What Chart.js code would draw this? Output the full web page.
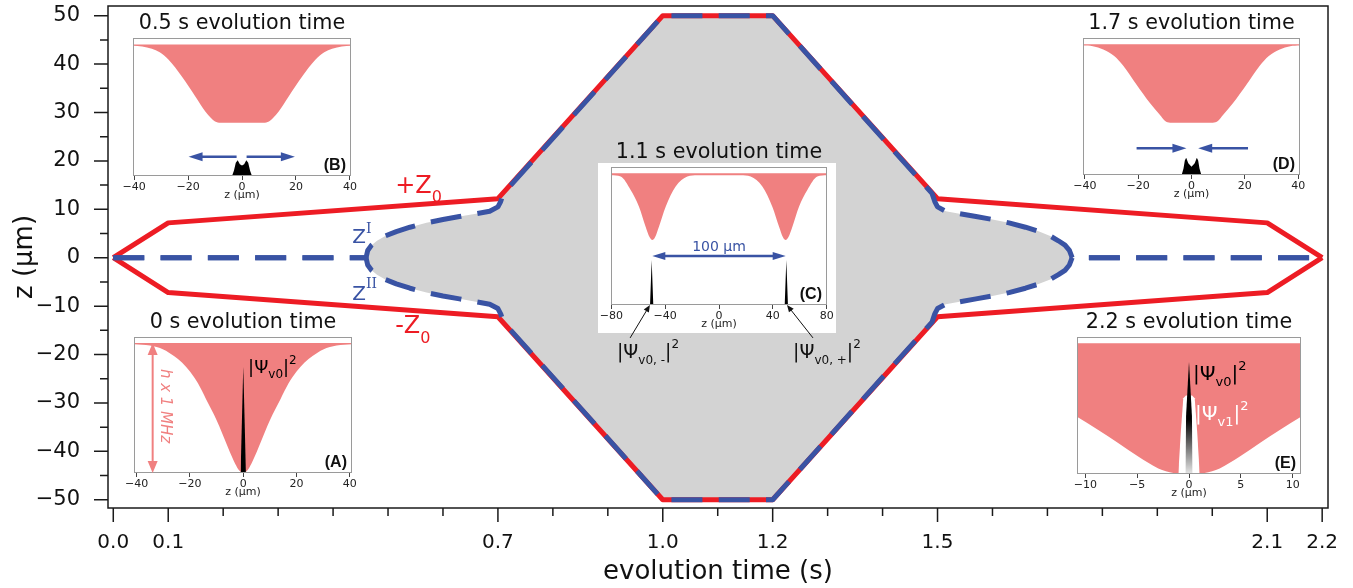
<!DOCTYPE html>
<html>
<head>
<meta charset="utf-8">
<script src="https://cdn.jsdelivr.net/npm/chart.js@4.4.1/dist/chart.umd.min.js"></script>
<style>
    html, body { margin: 0; padding: 0; background: #fff; }
    #contenedor { position: relative; width: 1353px; height: 588px; overflow: hidden; }
    #contenedor canvas { position: absolute; }
    #panelC { position: absolute; left: 598px; top: 163px; width: 238px; height: 170px; background: #fff; }
</style>
</head>
<body>
<div id="contenedor">
    <canvas id="principal" width="1353" height="588" style="left:0;top:0"></canvas>
    <div id="panelC"></div>
    <canvas id="recuadroA"></canvas>
    <canvas id="recuadroB"></canvas>
    <canvas id="recuadroC"></canvas>
    <canvas id="recuadroD"></canvas>
    <canvas id="recuadroE"></canvas>
</div>
<script>
// ---- Datos de la gráfica principal (tiempo en s, posición en µm) ----
const tZ0 = [0, 0.1, 0.7, 1.0, 1.2, 1.5, 2.1, 2.2];
const zMas0 = [0, 7.2, 12.2, 50, 50, 12.2, 7.2, 0];
const zMenos0 = [0, -7.2, -12.2, -50, -50, -12.2, -7.2, 0];

const tZ = [0, 0.460, 0.463, 0.470, 0.480, 0.495, 0.515, 0.540, 0.570, 0.600, 0.630, 0.660, 0.685, 0.700, 0.705, 0.710,
            1.0, 1.2,
            1.490, 1.495, 1.500, 1.515, 1.540, 1.570, 1.600, 1.630, 1.660, 1.685, 1.705, 1.720, 1.732, 1.740, 1.745, 2.2];
const zI = [0, 0, 1.5, 2.6, 3.5, 4.5, 5.4, 6.3, 7.2, 7.9, 8.5, 9.1, 9.6, 10.5, 11.6, 13.3,
            50, 50,
            13.3, 11.6, 10.5, 9.6, 9.1, 8.5, 7.9, 7.2, 6.3, 5.4, 4.5, 3.5, 2.6, 1.5, 0, 0];
const zII = [0, 0, -1.5, -2.6, -3.5, -4.5, -5.4, -6.3, -7.2, -7.9, -8.5, -9.1, -9.6, -10.5, -11.6, -13.3,
             -50, -50,
             -13.3, -11.6, -10.5, -9.6, -9.1, -8.5, -7.9, -7.2, -6.3, -5.4, -4.5, -3.5, -2.6, -1.5, 0, 0];

// Marcas de los ejes
const xMarcas = [0, 0.1, 0.7, 1.0, 1.2, 1.5, 2.1, 2.2];
const xEtiquetas = ['0.0', '0.1', '0.7', '1.0', '1.2', '1.5', '2.1', '2.2'];
const xMarcasMenores = [0.2, 0.3, 0.4, 0.5, 0.6, 0.8, 0.9, 1.1, 1.3, 1.4, 1.6, 1.7, 1.8, 1.9, 2.0];
const yMarcas = [-50, -40, -30, -20, -10, 0, 10, 20, 30, 40, 50];
const yEtiquetas = ['\u221250', '\u221240', '\u221230', '\u221220', '\u221210', '0', '10', '20', '30', '40', '50'];
const yMarcasMenores = [-45, -35, -25, -15, -5, 5, 15, 25, 35, 45];

// ---- Datos de los recuadros (z en µm, energía normalizada) ----
// (A) 0 s
const zPozoA = [-41, -35, -30, -26, -23, -20, -17, -14, -11, -9, -7, -5, -3, -1.5, 0, 1.5, 3, 5, 7, 9, 11, 14, 17, 20, 23, 26, 30, 35, 41];
const vPozoA = [0.99, 0.98, 0.95, 0.90, 0.85, 0.78, 0.69, 0.57, 0.45, 0.36, 0.26, 0.16, 0.07, 0.02, 0, 0.02, 0.07, 0.16, 0.26, 0.36, 0.45, 0.57, 0.69, 0.78, 0.85, 0.90, 0.95, 0.98, 0.99];
const zPsiA = [-1.0, 0, 1.0];
const psiA = [0, 0.82, 0];
// (B) 0.5 s
const zPozoB = [-40.4, -37, -33.4, -30.5, -27.2, -22.3, -17.3, -13.6, -11.5, -10, -8, 0, 8, 10, 11.5, 13.6, 17.3, 22.3, 27.2, 30.5, 33.4, 37, 40.4];
const vPozoB = [0.99, 0.985, 0.968, 0.94, 0.883, 0.756, 0.605, 0.49, 0.44, 0.415, 0.405, 0.405, 0.405, 0.415, 0.44, 0.49, 0.605, 0.756, 0.883, 0.94, 0.968, 0.985, 0.99];
const zPsiB = [-3.7, -3.0, -2.3, -1.6, -0.8, 0, 0.8, 1.6, 2.3, 3.0, 3.7];
const psiB = [0, 0.04, 0.10, 0.119, 0.09, 0.08, 0.09, 0.119, 0.10, 0.04, 0];
// (C) 1.1 s
const zPozoC = [-80.2, -73, -65.6, -59.4, -54.5, -51.5, -49.5, -47.5, -44.6, -39.6, -32.2, -23.5, -16, 0, 16, 23.5, 32.2, 39.6, 44.6, 47.5, 49.5, 51.5, 54.5, 59.4, 65.6, 73, 80.2];
const vPozoC = [0.985, 0.975, 0.873, 0.746, 0.595, 0.515, 0.494, 0.515, 0.595, 0.746, 0.899, 0.975, 0.985, 0.985, 0.985, 0.975, 0.899, 0.746, 0.595, 0.515, 0.494, 0.515, 0.595, 0.746, 0.873, 0.975, 0.985];
const zPsiC = [-51.2, -50, -48.8, 48.8, 50, 51.2];
const psiC = [0, 0.342, 0, 0, 0.342, 0];
// (D) 1.7 s
const zPozoD = [-40.7, -37, -33.1, -29, -25.6, -20.6, -15.6, -11.9, -10, -8, 0, 8, 10, 11.9, 15.6, 20.6, 25.6, 29, 33.1, 37, 40.7];
const vPozoD = [0.99, 0.985, 0.96, 0.91, 0.835, 0.69, 0.55, 0.46, 0.415, 0.40, 0.40, 0.40, 0.415, 0.46, 0.55, 0.69, 0.835, 0.91, 0.96, 0.985, 0.99];
const zPsiD = [-3.7, -3.0, -2.5, -2.0, -1.2, 0, 1.2, 2.0, 2.5, 3.0, 3.7];
const psiD = [0, 0.05, 0.11, 0.132, 0.09, 0.064, 0.09, 0.132, 0.11, 0.05, 0];
// (E) 2.2 s
const zPozoE = [-10.8, -8.75, -6.8, -4.9, -2.96, -1.5, 0, 1.5, 2.96, 4.9, 6.8, 8.75, 10.8];
const vPozoE = [0.438, 0.337, 0.235, 0.133, 0.043, 0.008, 0, 0.008, 0.043, 0.133, 0.235, 0.337, 0.438];
const zPsi1E = [-1.03, -0.8, -0.55, -0.3, 0.3, 0.55, 0.8, 1.03];
const psi1E = [0, 0.31, 0.58, 0.6, 0.6, 0.58, 0.31, 0];
const zPsi0E = [-0.35, -0.28, 0, 0.28, 0.35];
const psi0E = [0, 0.45, 0.86, 0.45, 0];

const marcas40 = [-40, -20, 0, 20, 40];
const etiquetas40 = ['\u221240', '\u221220', '0', '20', '40'];
const marcas80 = [-80, -40, 0, 40, 80];
const etiquetas80 = ['\u221280', '\u221240', '0', '40', '80'];
const marcas10 = [-10, -5, 0, 5, 10];
const etiquetas10 = ['\u221210', '\u22125', '0', '5', '10'];

// ---- Estilos ----
const ROJO = '#ed1c24';
const AZUL = '#3953a4';
const GRIS = '#d3d3d3';
const ROSA = '#f08080';
const FUENTE = "'DejaVu Sans'";

Chart.defaults.font.family = FUENTE;
Chart.defaults.color = '#111';

const puntos = (xs, ys) => xs.map((x, i) => ({ x: x, y: ys[i] }));

// Corrige el relleno del layout para que el área de trazado caiga donde debe
function ajustarArea(chart, relleno, deseado) {
    for (let k = 0; k < 4; k++) {
        const a = chart.chartArea;
        const dT = a.top - deseado.top, dL = a.left - deseado.left;
        const dR = deseado.right - a.right, dB = deseado.bottom - a.bottom;
        if (Math.abs(dT) + Math.abs(dL) + Math.abs(dR) + Math.abs(dB) < 0.3) break;
        relleno.top -= dT; relleno.left -= dL; relleno.right -= dR; relleno.bottom -= dB;
        chart.update();
    }
}

// Texto con subíndices / superíndices
function textoCompuesto(ctx, x, y, partes, color) {
    ctx.fillStyle = color;
    ctx.textAlign = 'left';
    ctx.textBaseline = 'alphabetic';
    let px = x;
    partes.forEach(p => {
        ctx.font = p.f;
        ctx.fillText(p.t, px, y + (p.dy || 0));
        px += ctx.measureText(p.t).width;
    });
}

function flecha(ctx, x1, y1, x2, y2, largo, ancho) {
    const ang = Math.atan2(y2 - y1, x2 - x1);
    const bx = x2 - largo * Math.cos(ang), by = y2 - largo * Math.sin(ang);
    ctx.beginPath(); ctx.moveTo(x1, y1); ctx.lineTo(bx + Math.cos(ang), by + Math.sin(ang)); ctx.stroke();
    ctx.beginPath();
    ctx.moveTo(x2, y2);
    ctx.lineTo(bx + ancho * Math.sin(ang), by - ancho * Math.cos(ang));
    ctx.lineTo(bx - ancho * Math.sin(ang), by + ancho * Math.cos(ang));
    ctx.closePath(); ctx.fill();
}

function dobleFlecha(ctx, x1, y1, x2, y2, largo, ancho) {
    const mx = (x1 + x2) / 2, my = (y1 + y2) / 2;
    flecha(ctx, mx, my, x1, y1, largo, ancho);
    flecha(ctx, mx, my, x2, y2, largo, ancho);
}

function letraRecuadro(ctx, a, texto) {
    ctx.fillStyle = '#111';
    ctx.font = "bold 16px 'Liberation Sans'";
    ctx.textAlign = 'right';
    ctx.textBaseline = 'alphabetic';
    ctx.fillText(texto, a.right - 5, a.bottom - 6);
}

const psiPartes = (sub, g, p) => [
    { t: '|\u03A8', f: g + 'px ' + FUENTE },
    { t: sub, f: p + 'px ' + FUENTE, dy: Math.round(g * 0.3) },
    { t: '|', f: g + 'px ' + FUENTE },
    { t: '2', f: p + 'px ' + FUENTE, dy: -Math.round(g * 0.5) }
];

// ---- Gráfica principal: marco, marcas y etiquetas ----
const marcoPrincipal = {
    id: 'marcoPrincipal',
    afterDraw(chart) {
        const { ctx, chartArea: a } = chart;
        const x = chart.scales.x, y = chart.scales.y;
        ctx.save();
        ctx.strokeStyle = '#1a1a1a';
        ctx.lineWidth = 1.5;
        ctx.strokeRect(a.left, a.top, a.right - a.left, a.bottom - a.top);
        ctx.beginPath();
        xMarcas.forEach(v => { const p = x.getPixelForValue(v); ctx.moveTo(p, a.bottom); ctx.lineTo(p, a.bottom + 14); });
        xMarcasMenores.forEach(v => { const p = x.getPixelForValue(v); ctx.moveTo(p, a.bottom); ctx.lineTo(p, a.bottom + 8); });
        yMarcas.forEach(v => { const p = y.getPixelForValue(v); ctx.moveTo(a.left, p); ctx.lineTo(a.left - 14, p); });
        yMarcasMenores.forEach(v => { const p = y.getPixelForValue(v); ctx.moveTo(a.left, p); ctx.lineTo(a.left - 8, p); });
        ctx.stroke();

        // Etiquetas de las trayectorias
        textoCompuesto(ctx, x.getPixelForValue(0.513), y.getPixelForValue(13.4),
            [{ t: '+Z', f: '24px ' + FUENTE }, { t: '0', f: '16px ' + FUENTE, dy: 9 }], ROJO);
        textoCompuesto(ctx, x.getPixelForValue(0.513), y.getPixelForValue(-15.5),
            [{ t: '-Z', f: '24px ' + FUENTE }, { t: '0', f: '16px ' + FUENTE, dy: 10 }], ROJO);
        textoCompuesto(ctx, x.getPixelForValue(0.435), y.getPixelForValue(3.1),
            [{ t: 'Z', f: '20px ' + FUENTE }, { t: 'I', f: "14px 'DejaVu Serif'", dy: -10 }], AZUL);
        textoCompuesto(ctx, x.getPixelForValue(0.435), y.getPixelForValue(-8.7),
            [{ t: 'Z', f: '20px ' + FUENTE }, { t: 'II', f: "14px 'DejaVu Serif'", dy: -12 }], AZUL);
        ctx.restore();
    }
};

const rellenoPrincipal = { top: 6, right: 25, left: 0, bottom: 0 };
const graficaPrincipal = new Chart(document.getElementById('principal'), {
    type: 'line',
    data: {
        datasets: [
            { data: puntos(tZ, zI), fill: '+1', backgroundColor: GRIS, borderWidth: 0, pointRadius: 0, order: 3 },
            { data: puntos(tZ, zII), fill: false, borderWidth: 0, pointRadius: 0, order: 3 },
            { data: puntos(tZ0, zMas0), fill: false, borderColor: ROJO, borderWidth: 5, pointRadius: 0, borderJoinStyle: 'round', order: 2 },
            { data: puntos(tZ0, zMenos0), fill: false, borderColor: ROJO, borderWidth: 5, pointRadius: 0, borderJoinStyle: 'round', order: 2 },
            { data: puntos(tZ, zI), fill: false, borderColor: AZUL, borderWidth: 5, borderDash: [31, 16.3], pointRadius: 0, borderJoinStyle: 'round', order: 1 },
            { data: puntos(tZ, zII), fill: false, borderColor: AZUL, borderWidth: 5, borderDash: [31, 16.3], pointRadius: 0, borderJoinStyle: 'round', order: 1 }
        ]
    },
    options: {
        responsive: false,
        animation: false,
        events: [],
        layout: { padding: rellenoPrincipal, autoPadding: false },
        plugins: { legend: { display: false }, tooltip: { enabled: false } },
        scales: {
            x: {
                type: 'linear', min: -0.0096, max: 2.2106,
                afterFit: s => { s.height = 80; s.paddingLeft = 0; s.paddingRight = 0; },
                afterBuildTicks: s => { s.ticks = xMarcas.map(v => ({ value: v })); },
                grid: { display: false }, border: { display: false },
                ticks: { autoSkip: false, maxRotation: 0, padding: 15, font: { size: 20 }, color: '#111',
                         callback: (v, i) => xEtiquetas[i] },
                title: { display: true, text: 'evolution time (s)', font: { size: 26 }, color: '#111', padding: { top: 0, bottom: 0 } }
            },
            y: {
                min: -51.7, max: 52,
                afterFit: s => { s.width = 108; s.paddingTop = 0; s.paddingBottom = 0; },
                afterBuildTicks: s => { s.ticks = yMarcas.map(v => ({ value: v })); },
                grid: { display: false }, border: { display: false },
                ticks: { padding: 20, font: { size: 21 }, color: '#111', callback: (v, i) => yEtiquetas[i] },
                title: { display: true, text: 'z (\u00B5m)', font: { size: 26 }, color: '#111', padding: { top: 10, bottom: 0 } }
            }
        }
    },
    plugins: [marcoPrincipal]
});
ajustarArea(graficaPrincipal, rellenoPrincipal, { left: 108, top: 6, right: 1328, bottom: 508 });

// ---- Recuadros ----
function crearRecuadro(id, caja, cfg) {
    const pad = cfg.pad || { left: 18, right: 18, bottom: 0 };
    const lienzo = document.getElementById(id);
    lienzo.width = (caja.r - caja.l) + pad.left + pad.right;
    lienzo.height = 26 + (caja.b - caja.t) + 26 + pad.bottom;
    lienzo.style.left = (caja.l - pad.left) + 'px';
    lienzo.style.top = (caja.t - 26) + 'px';

    const marco = {
        id: 'marcoRecuadro',
        afterDraw(chart) {
            const { ctx, chartArea: a } = chart;
            ctx.save();
            ctx.strokeStyle = '#9a9a9a';
            ctx.lineWidth = 1;
            ctx.strokeRect(a.left + 0.5, a.top + 0.5, a.right - a.left - 1, a.bottom - a.top - 1);
            if (cfg.extra) cfg.extra(ctx, chart.scales.x, chart.scales.y, a);
            ctx.restore();
        }
    };

    const relleno = { left: pad.left, right: pad.right, top: 0, bottom: pad.bottom };
    const grafica = new Chart(lienzo, {
        type: 'line',
        data: { datasets: cfg.series },
        options: {
            responsive: false,
            animation: false,
            events: [],
            layout: { padding: relleno, autoPadding: false },
            plugins: {
                legend: { display: false }, tooltip: { enabled: false },
                title: { display: true, text: cfg.titulo, font: { size: 20.7, weight: 'normal' }, color: '#111', padding: { top: 0.5, bottom: 1.5 } }
            },
            scales: {
                x: {
                    type: 'linear', min: cfg.xMin, max: cfg.xMax,
                    afterFit: s => { s.height = 26; s.paddingLeft = 0; s.paddingRight = 0; },
                    afterBuildTicks: s => { s.ticks = cfg.marcas.map(v => ({ value: v })); },
                    grid: { display: true, drawOnChartArea: false, drawTicks: true, tickLength: 4, color: '#444', lineWidth: 1 },
                    border: { display: false },
                    ticks: { padding: 1, font: { size: 11 }, color: '#222', maxRotation: 0, autoSkip: false,
                             callback: (v, i) => cfg.etiquetas[i] },
                    title: { display: true, text: 'z (\u00B5m)', font: { size: 11 }, color: '#222', padding: { top: 0, bottom: 0 } }
                },
                y: { display: false, min: 0, max: cfg.yMax }
            }
        },
        plugins: [marco]
    });
    ajustarArea(grafica, relleno, {
        left: pad.left, top: 26, right: lienzo.width - pad.right, bottom: 26 + (caja.b - caja.t)
    });
    return grafica;
}

const pozo = (zs, vs) => ({ data: puntos(zs, vs), fill: { value: 1 }, backgroundColor: ROSA, borderWidth: 0, pointRadius: 0, cubicInterpolationMode: 'monotone', order: 3 });
const paquete = (zs, vs, color) => ({ data: puntos(zs, vs), fill: 'origin', backgroundColor: color || '#000', borderWidth: 0, pointRadius: 0, order: 1 });

// (A) 0 s
crearRecuadro('recuadroA', { l: 134, t: 337, r: 352, b: 473 }, {
    titulo: '0 s evolution time', xMin: -41, xMax: 40.8, yMax: 1.046,
    marcas: marcas40, etiquetas: etiquetas40,
    series: [pozo(zPozoA, vPozoA), paquete(zPsiA, psiA)],
    extra: (ctx, x, y, a) => {
        ctx.strokeStyle = ROSA; ctx.fillStyle = ROSA; ctx.lineWidth = 2;
        const xf = x.getPixelForValue(-34);
        dobleFlecha(ctx, xf, y.getPixelForValue(1), xf, y.getPixelForValue(0), 12, 5);
        ctx.save();
        ctx.translate(x.getPixelForValue(-29.5), y.getPixelForValue(0.515));
        ctx.rotate(Math.PI / 2);
        ctx.font = 'italic 15px ' + FUENTE;
        ctx.textAlign = 'center'; ctx.textBaseline = 'middle';
        ctx.fillText('h x 1 MHz', 0, 0);
        ctx.restore();
        textoCompuesto(ctx, x.getPixelForValue(1.8), y.getPixelForValue(0.767), psiPartes('v0', 18, 12), '#000');
        letraRecuadro(ctx, a, '(A)');
    }
});

// (B) 0.5 s
crearRecuadro('recuadroB', { l: 133, t: 38, r: 351, b: 176 }, {
    titulo: '0.5 s evolution time', xMin: -40.4, xMax: 40.4, yMax: 1.049,
    marcas: marcas40, etiquetas: etiquetas40,
    series: [pozo(zPozoB, vPozoB), paquete(zPsiB, psiB)],
    extra: (ctx, x, y, a) => {
        ctx.strokeStyle = AZUL; ctx.fillStyle = AZUL; ctx.lineWidth = 2.5;
        const yf = y.getPixelForValue(0.147);
        flecha(ctx, x.getPixelForValue(-2), yf, x.getPixelForValue(-19.8), yf, 14, 4.5);
        flecha(ctx, x.getPixelForValue(1.7), yf, x.getPixelForValue(19.6), yf, 14, 4.5);
        letraRecuadro(ctx, a, '(B)');
    }
});

// (C) 1.1 s
crearRecuadro('recuadroC', { l: 611, t: 167, r: 827, b: 305 }, {
    titulo: '1.1 s evolution time', xMin: -80.2, xMax: 80.2, yMax: 1.048,
    pad: { left: 18, right: 40, bottom: 42 },
    marcas: marcas80, etiquetas: etiquetas80,
    series: [pozo(zPozoC, vPozoC), paquete(zPsiC, psiC)],
    extra: (ctx, x, y, a) => {
        ctx.strokeStyle = AZUL; ctx.fillStyle = AZUL; ctx.lineWidth = 2.5;
        const yf = y.getPixelForValue(0.372);
        dobleFlecha(ctx, x.getPixelForValue(-49.5), yf, x.getPixelForValue(49.5), yf, 13, 4);
        ctx.font = '14px ' + FUENTE;
        ctx.textAlign = 'center'; ctx.textBaseline = 'alphabetic';
        ctx.fillText('100 \u00B5m', x.getPixelForValue(0), y.getPixelForValue(0.41));
        letraRecuadro(ctx, a, '(C)');
        // flechas hacia los paquetes
        ctx.strokeStyle = '#111'; ctx.fillStyle = '#111'; ctx.lineWidth = 1;
        flecha(ctx, x.getPixelForValue(-66), y.getPixelForValue(-0.25), x.getPixelForValue(-51.3), y.getPixelForValue(0), 7, 3);
        flecha(ctx, x.getPixelForValue(69.8), y.getPixelForValue(-0.25), x.getPixelForValue(50.5), y.getPixelForValue(0), 7, 3);
        textoCompuesto(ctx, x.getPixelForValue(-75.8), y.getPixelForValue(-0.40), psiPartes('v0, -', 19, 12), '#111');
        textoCompuesto(ctx, x.getPixelForValue(55), y.getPixelForValue(-0.40), psiPartes('v0, +', 19, 12), '#111');
    }
});

// (D) 1.7 s
crearRecuadro('recuadroD', { l: 1083, t: 38, r: 1300, b: 175 }, {
    titulo: '1.7 s evolution time', xMin: -40.7, xMax: 40.7, yMax: 1.048,
    marcas: marcas40, etiquetas: etiquetas40,
    series: [pozo(zPozoD, vPozoD), paquete(zPsiD, psiD)],
    extra: (ctx, x, y, a) => {
        ctx.strokeStyle = AZUL; ctx.fillStyle = AZUL; ctx.lineWidth = 2.5;
        const yf = y.getPixelForValue(0.204);
        flecha(ctx, x.getPixelForValue(-20.6), yf, x.getPixelForValue(-1.9), yf, 14, 4.5);
        flecha(ctx, x.getPixelForValue(21.2), yf, x.getPixelForValue(2.5), yf, 14, 4.5);
        letraRecuadro(ctx, a, '(D)');
    }
});

// (E) 2.2 s
const degradado = c => {
    const a = c.chart.chartArea;
    if (!a) return '#000';
    const g = c.chart.ctx.createLinearGradient(0, a.bottom, 0, a.top);
    g.addColorStop(0, 'rgba(0,0,0,0.1)');
    g.addColorStop(0.4, '#000');
    g.addColorStop(1, '#000');
    return g;
};
crearRecuadro('recuadroE', { l: 1077, t: 337, r: 1301, b: 474 }, {
    titulo: '2.2 s evolution time', xMin: -10.8, xMax: 10.8, yMax: 1.048,
    marcas: marcas10, etiquetas: etiquetas10,
    series: [pozo(zPozoE, vPozoE),
             Object.assign(paquete(zPsi1E, psi1E, '#fff'), { order: 2 }),
             paquete(zPsi0E, psi0E, degradado)],
    extra: (ctx, x, y, a) => {
        textoCompuesto(ctx, x.getPixelForValue(0.39), y.getPixelForValue(0.72), psiPartes('v0', 20, 13), '#000');
        textoCompuesto(ctx, x.getPixelForValue(0.58), y.getPixelForValue(0.413), psiPartes('v1', 20, 13), '#fff');
        letraRecuadro(ctx, a, '(E)');
    }
});
</script>
</body>
</html>
